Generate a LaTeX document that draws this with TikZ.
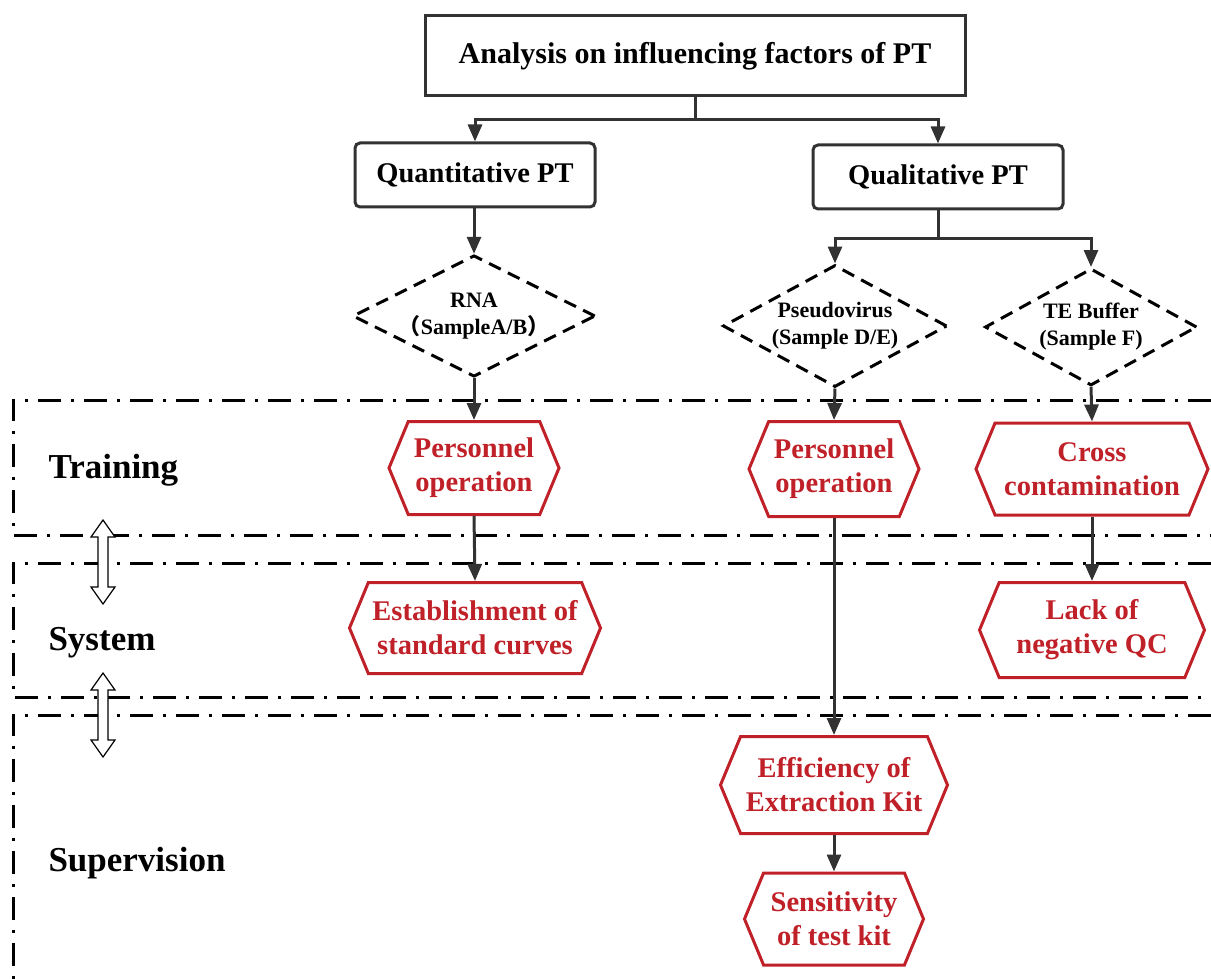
\documentclass[tikz,border=0pt]{standalone}
\usepackage{fontspec}
\setmainfont{Liberation Serif}
\newfontfamily\cjkparen{Noto Sans CJK SC}
\usepackage{tikz}
\usetikzlibrary{positioning,shapes.geometric,shapes.symbols,arrows.meta}
\definecolor{factred}{RGB}{192,32,40}
\definecolor{linegray}{RGB}{50,50,50}

\tikzset{
  topbox/.style={draw=linegray, line width=3pt, minimum width=540pt, minimum height=80pt,
    font=\bfseries\fontsize{30}{35}\selectfont},
  ptbox/.style={draw=linegray, line width=3pt, rounded corners=5pt, minimum height=64pt,
    font=\bfseries\fontsize{28.5}{33}\selectfont},
  sample/.style={diamond, aspect=2, draw=black, line width=3pt, dash pattern=on 13pt off 8pt,
    align=center, inner sep=0pt, font=\bfseries\fontsize{22}{27}\selectfont},
  factor/.style={signal, signal to=west and east, signal pointer angle=135,
    draw=factred, line width=3pt, text=factred, align=center, inner sep=0pt,
    font=\bfseries\fontsize{28.5}{34}\selectfont},
  layer/.style={draw=black, line width=3pt, dash pattern=on 23pt off 10pt on 3pt off 10pt},
  levelname/.style={anchor=west, font=\bfseries\fontsize{35}{40}\selectfont},
  flow/.style={draw=linegray, line width=3pt, -{Triangle[length=17pt,width=14pt]}},
  link/.style={draw=linegray, line width=3pt},
  updown/.pic={
    \draw[fill=white, line width=1.2pt] (0,-42) -- (12,-25) -- (5,-25) -- (5,25) -- (12,25)
      -- (0,42) -- (-12,25) -- (-5,25) -- (-5,-25) -- (-12,-25) -- cycle;
  }
}

\begin{document}
\begin{tikzpicture}[x=1pt,y=-1pt]
\useasboundingbox (0,0) rectangle (1211,979);

% layers
\draw[layer] (1211,400) -- (13,400) -- (13,535) -- (1211,535);
\draw[layer] (1211,563) -- (13,563) -- (13,697) -- (1211,697);
\draw[layer] (1211,715) -- (13,715) -- (13,979);
\node[levelname] (training) at (45,470) {Training};
\node[levelname] (system) at (45,643) {System};
\node[levelname] (supervision) at (45,863) {Supervision};
\pic at (103,562) {updown};
\pic at (103,715) {updown};

% top
\node[topbox] (root) at (695,56) {Analysis on influencing factors of PT};
\node[ptbox, minimum width=240pt] (quant) at (475,175) {Quantitative PT};
\node[ptbox, minimum width=250pt] (qual) at (938,177) {Qualitative PT};

% samples
\node[sample, minimum width=228pt, minimum height=107pt] (rna) at (474,316)
  {RNA\\{\cjkparen （}SampleA/B{\cjkparen ）}};
\node[sample, minimum width=224pt, minimum height=122pt] (pseudo) at (835,326)
  {Pseudovirus\\(Sample D/E)};
\node[sample, minimum width=212pt, minimum height=117pt] (buffer) at (1091,327)
  {TE Buffer\\(Sample F)};

% factors
\node[factor, minimum width=170pt, minimum height=93pt] (oper1) at (474,468) {Personnel\\operation};
\node[factor, minimum width=170pt, minimum height=95pt] (oper2) at (834,469) {Personnel\\operation};
\node[factor, minimum width=232pt, minimum height=92pt] (cross) at (1092,469) {Cross\\contamination};
\node[factor, minimum width=251pt, minimum height=91pt] (curve) at (475,628) {Establishment of\\standard curves};
\node[factor, minimum width=225pt, minimum height=95pt] (negqc) at (1092,630) {Lack of\\negative QC};
\node[factor, minimum width=227pt, minimum height=97pt] (extract) at (834,785) {Efficiency of\\Extraction Kit};
\node[factor, minimum width=179pt, minimum height=92pt] (sensit) at (834,919) {Sensitivity\\of test kit};

% connectors
\draw[link] (root.south) -- ++(0,22) coordinate (split);
\draw[flow] (split) -| (quant.north);
\draw[flow] (split) -| (qual.north);
\draw[flow] (quant.south -| rna.north) -- (rna.north);
\draw[link] (qual.south) -- ++(0,28) coordinate (split2);
\draw[flow] (split2) -| (pseudo.north);
\draw[flow] (split2) -| (buffer.north);
\draw[flow] (rna.south) -- (oper1.north);
\draw[flow] (pseudo.south) -- (oper2.north);
\draw[flow] (buffer.south) -- (cross.north);
\draw[flow] (oper1.south) -- (curve.north);
\draw[flow] (cross.south) -- (negqc.north);
\draw[flow] (oper2.south) -- (extract.north);
\draw[flow] (extract.south) -- (sensit.north);
\end{tikzpicture}
\end{document}
